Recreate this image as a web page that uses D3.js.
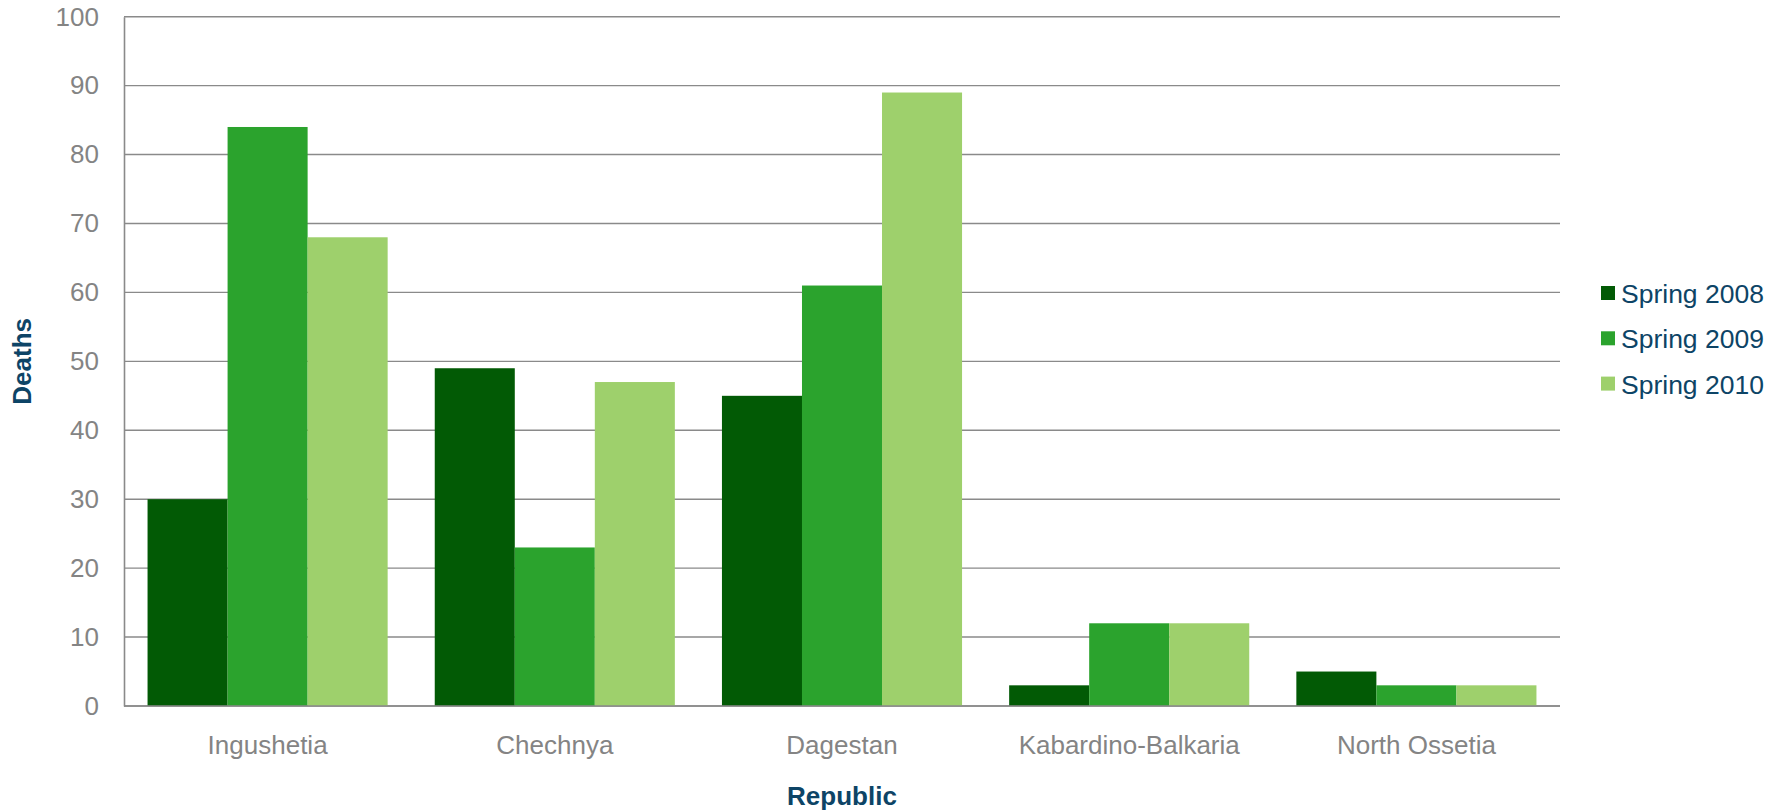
<!DOCTYPE html>
<html>
<head>
<meta charset="utf-8">
<script src="https://cdn.jsdelivr.net/npm/d3@7"></script>
<style>
  html, body { margin: 0; padding: 0; background: #ffffff; }
  svg { display: block; font-family: "Liberation Sans", Arial, sans-serif; }
</style>
</head>
<body>
<svg id="chart" width="1783" height="811"></svg>
<script>
// Deaths per republic, spring 2008–2010
const republics = ["Ingushetia", "Chechnya", "Dagestan", "Kabardino-Balkaria", "North Ossetia"];
const seriesNames = ["Spring 2008", "Spring 2009", "Spring 2010"];
const spring2008 = [30, 49, 45, 3, 5];
const spring2009 = [84, 23, 61, 12, 3];
const spring2010 = [68, 47, 89, 12, 3];
const yTicks = [0, 10, 20, 30, 40, 50, 60, 70, 80, 90, 100];
const colors = ["#025a05", "#2ba32d", "#9ed06c"];

const seriesValues = [spring2008, spring2009, spring2010];
const rows = republics.map((r, i) => ({
  republic: r,
  values: seriesNames.map((s, k) => ({ key: s, value: seriesValues[k][i], color: colors[k] }))
}));

const svg = d3.select("#chart");
const plot = { left: 124, right: 1560, top: 16.7, bottom: 706 };

const x0 = d3.scaleBand()
  .domain(republics)
  .range([plot.left, plot.right])
  .paddingInner(0.164)
  .paddingOuter(0.082);

const x1 = d3.scaleBand()
  .domain(seriesNames)
  .range([0, x0.bandwidth()])
  .padding(0);

const y = d3.scaleLinear()
  .domain([0, 100])
  .range([plot.bottom, plot.top]);

// Horizontal gridlines
svg.append("g")
  .selectAll("line")
  .data(yTicks)
  .join("line")
  .attr("x1", plot.left)
  .attr("x2", plot.right)
  .attr("y1", d => y(d))
  .attr("y2", d => y(d))
  .attr("stroke", "#8a8a8a")
  .attr("stroke-width", 1.4);

// Bars
const groups = svg.append("g")
  .selectAll("g")
  .data(rows)
  .join("g")
  .attr("transform", d => `translate(${x0(d.republic)},0)`);

groups.selectAll("rect")
  .data(d => d.values)
  .join("rect")
  .attr("x", d => x1(d.key))
  .attr("y", d => y(d.value))
  .attr("width", x1.bandwidth())
  .attr("height", d => y(0) - y(d.value))
  .attr("fill", d => d.color);

// Baseline over the bars
svg.append("line")
  .attr("x1", plot.left).attr("x2", plot.right)
  .attr("y1", y(0)).attr("y2", y(0))
  .attr("stroke", "#8a8a8a").attr("stroke-width", 1.6);

// Y axis
const yAxis = d3.axisLeft(y)
  .tickValues(yTicks)
  .tickSize(0)
  .tickPadding(25);
const yg = svg.append("g")
  .attr("transform", `translate(${plot.left},0)`)
  .call(yAxis);
yg.select(".domain").attr("stroke", "#8a8a8a").attr("stroke-width", 1.6);
yg.selectAll("text")
  .attr("fill", "#848484")
  .attr("font-size", "26px")
  .attr("font-family", "Liberation Sans, Arial, sans-serif");

// X axis labels
const xAxis = d3.axisBottom(x0).tickSize(0).tickPadding(30);
const xg = svg.append("g")
  .attr("transform", `translate(0,${plot.bottom})`)
  .call(xAxis);
xg.select(".domain").remove();
xg.selectAll("text")
  .attr("fill", "#848484")
  .attr("font-size", "26px")
  .attr("font-family", "Liberation Sans, Arial, sans-serif");

// Axis titles
svg.append("text")
  .attr("x", (plot.left + plot.right) / 2)
  .attr("y", 805)
  .attr("text-anchor", "middle")
  .attr("font-size", "26px")
  .attr("font-weight", "bold")
  .attr("fill", "#0d4466")
  .text("Republic");

svg.append("text")
  .attr("transform", `translate(31,${(plot.top + plot.bottom) / 2}) rotate(-90)`)
  .attr("text-anchor", "middle")
  .attr("font-size", "26px")
  .attr("font-weight", "bold")
  .attr("fill", "#0d4466")
  .text("Deaths");

// Legend
const legend = svg.append("g")
  .selectAll("g")
  .data(seriesNames)
  .join("g")
  .attr("transform", (d, i) => `translate(1601,${286 + i * 45.3})`);

legend.append("rect")
  .attr("width", 14).attr("height", 14)
  .attr("fill", (d, i) => colors[i]);

legend.append("text")
  .attr("x", 20)
  .attr("y", 17)
  .attr("font-size", "26.5px")
  .attr("fill", "#0d4466")
  .text(d => d);
</script>
</body>
</html>
